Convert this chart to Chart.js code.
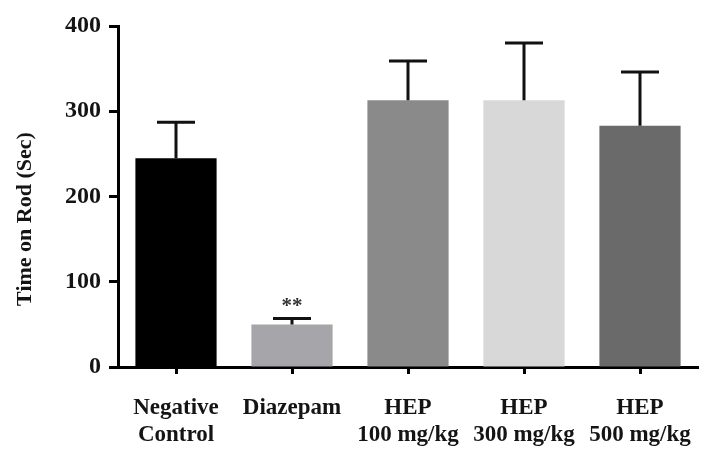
<!DOCTYPE html>
<html>
<head>
<meta charset="utf-8">
<script src="https://cdn.jsdelivr.net/npm/chart.js@4/dist/chart.umd.min.js"></script>
<style>
  html, body { margin: 0; padding: 0; background: #fff; }
  #wrap { width: 702px; height: 449px; }
</style>
</head>
<body>
<div id="wrap"><canvas id="rodChart"></canvas></div>
<script>
// groups on the x axis
const groups = [['Negative', 'Control'], ['Diazepam'], ['HEP', '100 mg/kg'], ['HEP', '300 mg/kg'], ['HEP', '500 mg/kg']];
// mean time on rod (sec)
const means = [245, 50, 313, 313, 283];
// upper error (SEM) added on top of each bar
const errors = [42, 7, 46, 67, 63];
// significance marks
const marks = ['', '**', '', '', ''];
const barColors = ['#000000', '#a6a6aa', '#8a8a8a', '#d8d8d8', '#6a6a6a'];
const yTicks = [0, 100, 200, 300, 400];

const textColor = '#141414';
const serif = "'Liberation Serif', 'Times New Roman', serif";

// error bars + star marks, drawn after the bars
const errorBars = {
  id: 'errorBars',
  afterDatasetsDraw(chart) {
    const ctx = chart.ctx;
    const y = chart.scales.y;
    const meta = chart.getDatasetMeta(0);
    ctx.save();
    ctx.strokeStyle = '#111';
    ctx.lineWidth = 3;
    meta.data.forEach((bar, i) => {
      const x = bar.x;
      const yTop = y.getPixelForValue(means[i] + errors[i]);
      const yBase = y.getPixelForValue(means[i]);
      ctx.beginPath();
      ctx.moveTo(x, yBase);
      ctx.lineTo(x, yTop);
      ctx.moveTo(x - 19, yTop);
      ctx.lineTo(x + 19, yTop);
      ctx.stroke();
      if (marks[i]) {
        ctx.fillStyle = '#333';
        ctx.font = 'bold 21px ' + serif;
        ctx.textAlign = 'center';
        ctx.textBaseline = 'bottom';
        ctx.fillText(marks[i], x, yTop - 1);
      }
    });
    // y axis title, a bit below the axis centre as in the figure
    ctx.translate(25, 219);
    ctx.rotate(-Math.PI / 2);
    ctx.fillStyle = textColor;
    ctx.font = 'bold 22px ' + serif;
    ctx.textAlign = 'center';
    ctx.textBaseline = 'middle';
    ctx.fillText('Time on Rod (Sec)', 0, 0);
    ctx.restore();
  }
};

new Chart(document.getElementById('rodChart'), {
  type: 'bar',
  data: {
    labels: groups,
    datasets: [{
      data: means,
      backgroundColor: barColors,
      borderWidth: 0,
      barPercentage: 0.7,
      categoryPercentage: 1.0
    }]
  },
  options: {
    responsive: true,
    maintainAspectRatio: false,
    animation: false,
    layout: { padding: { left: 8, right: 4, top: 26, bottom: 0 } },
    plugins: { legend: { display: false }, tooltip: { enabled: false } },
    scales: {
      x: {
        afterFit: (s) => { s.height = 82; s.paddingLeft = 0; s.paddingRight = 0; },
        grid: { drawOnChartArea: false, drawTicks: true, tickLength: 7, tickWidth: 3, tickColor: '#000', offset: false },
        border: { display: true, color: '#000', width: 3 },
        ticks: {
          color: textColor,
          padding: 20,
          maxRotation: 0,
          autoSkip: false,
          font: { family: serif, size: 23, weight: 'bold', lineHeight: 1.2 }
        }
      },
      y: {
        min: 0,
        max: 400,
        afterFit: (s) => { s.width = 110; s.paddingTop = 0; s.paddingBottom = 0; },
        afterBuildTicks: (s) => { s.ticks = yTicks.map(v => ({ value: v })); },
        grid: { drawOnChartArea: false, drawTicks: true, tickLength: 9, tickWidth: 3, tickColor: '#000' },
        border: { display: true, color: '#000', width: 3 },
        ticks: {
          color: textColor,
          padding: 8,
          font: { family: serif, size: 24, weight: 'bold' }
        }
      }
    }
  },
  plugins: [errorBars]
});
</script>
</body>
</html>
